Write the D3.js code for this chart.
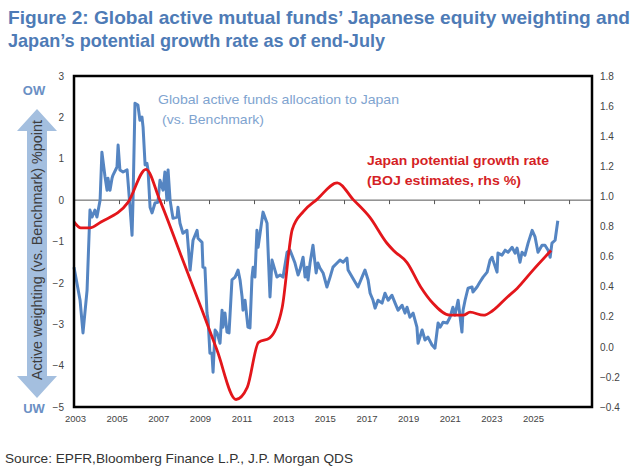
<!DOCTYPE html>
<html><head><meta charset="utf-8">
<script src="https://cdn.jsdelivr.net/npm/d3@7"></script>
<style>body{margin:0;background:#fff}svg{display:block}</style>
</head><body>
<svg id="c" width="640" height="472"></svg>
<script>
// ---- data (decimal years) ----
const blueYears = [2003.00,2003.27,2003.40,2003.58,2003.71,2003.80,2003.93,2004.02,2004.16,2004.24,2004.38,2004.47,2004.51,2004.60,2004.69,2004.73,2004.91,2004.96,2005.04,2005.18,2005.36,2005.49,2005.58,2005.62,2005.71,2005.84,2005.93,2006.02,2006.07,2006.16,2006.24,2006.29,2006.38,2006.47,2006.60,2006.73,2006.82,2006.96,2007.04,2007.13,2007.18,2007.27,2007.36,2007.40,2007.58,2007.62,2007.71,2007.84,2008.02,2008.16,2008.29,2008.47,2008.51,2008.69,2008.73,2008.82,2008.91,2008.96,2009.04,2009.13,2009.18,2009.27,2009.36,2009.49,2009.58,2009.62,2009.71,2009.80,2009.89,2010.02,2010.16,2010.29,2010.38,2010.47,2010.51,2010.60,2010.73,2010.82,2010.91,2010.96,2011.04,2011.13,2011.18,2011.27,2011.40,2011.58,2011.62,2011.71,2011.80,2011.93,2012.02,2012.16,2012.29,2012.47,2012.60,2012.82,2012.96,2013.04,2013.18,2013.27,2013.36,2013.40,2013.49,2013.62,2013.76,2013.84,2013.93,2014.07,2014.24,2014.38,2014.51,2014.69,2014.82,2014.96,2015.13,2015.18,2015.36,2015.49,2015.62,2015.80,2015.93,2016.07,2016.16,2016.29,2016.38,2016.51,2016.69,2016.82,2016.96,2017.13,2017.27,2017.40,2017.58,2017.71,2017.80,2017.93,2018.07,2018.24,2018.29,2018.47,2018.60,2018.73,2018.91,2019.04,2019.18,2019.27,2019.40,2019.58,2019.71,2019.84,2019.93,2020.07,2020.24,2020.29,2020.38,2020.51,2020.69,2020.73,2020.91,2021.04,2021.18,2021.36,2021.49,2021.58,2021.62,2021.80,2021.84,2022.02,2022.16,2022.29,2022.47,2022.60,2022.69,2022.82,2022.91,2023.04,2023.18,2023.36,2023.49,2023.62,2023.80,2023.93,2024.07,2024.16,2024.24,2024.38,2024.50];
const blueValues = [-1.62,-2.42,-3.21,-2.18,-0.24,-0.41,-0.24,-0.41,0.00,1.16,0.56,0.24,0.53,0.24,0.53,0.60,0.80,1.33,0.73,0.68,0.73,-0.17,-0.85,-0.07,2.34,2.30,1.93,2.01,1.76,0.85,0.89,0.73,-0.17,-0.31,-0.07,-0.05,0.48,0.24,0.68,0.00,0.73,0.00,-0.31,-0.44,-0.41,-0.17,-0.56,-0.80,-0.73,-1.69,-0.97,-0.73,-0.92,-1.02,-1.62,-1.64,-2.73,-2.90,-3.70,-3.70,-4.16,-3.14,-3.21,-3.46,-2.66,-3.07,-2.73,-3.19,-3.21,-1.93,-1.86,-1.69,-1.93,-2.34,-2.66,-2.42,-3.07,-3.09,-1.86,-1.62,-1.86,-0.73,-1.14,-0.80,-0.29,-0.56,-1.14,-2.34,-1.45,-1.69,-1.86,-1.81,-1.86,-1.26,-1.21,-1.52,-1.81,-1.69,-1.38,-1.86,-1.62,-1.93,-1.52,-1.09,-1.76,-1.52,-1.64,-1.76,-2.10,-1.86,-1.62,-1.52,-1.45,-1.50,-1.40,-1.69,-1.86,-1.98,-2.10,-1.86,-1.69,-1.93,-2.25,-2.42,-2.61,-2.42,-2.49,-2.25,-2.42,-2.30,-2.49,-2.66,-2.54,-2.73,-2.59,-2.83,-2.73,-3.07,-3.46,-3.14,-3.38,-3.31,-3.50,-3.58,-2.97,-3.07,-2.95,-2.97,-2.83,-2.59,-2.78,-2.42,-3.19,-2.66,-2.42,-2.13,-2.10,-2.22,-2.10,-1.98,-1.86,-1.74,-1.45,-1.38,-1.45,-1.74,-1.28,-1.33,-1.21,-1.26,-1.14,-1.28,-1.16,-1.50,-1.26,-1.33,-1.04,-0.73,-0.89,-1.26,-1.09,-1.09,-1.21,-1.38,-1.04,-0.97,-0.50];

const redYears = [2003.0,2003.3,2003.7,2004.2,2005.4,2006.2,2006.8,2007.8,2008.7,2009.35,2010.2,2010.7,2011.2,2011.7,2012.25,2012.7,2013.2,2013.8,2014.7,2015.4,2016.15,2016.9,2017.2,2017.8,2018.4,2018.95,2019.7,2020.3,2020.6,2021.2,2021.6,2022.25,2022.7,2023.4,2024.2];
const redValues = [0.83,0.79,0.79,0.83,0.96,1.18,0.98,0.59,0.24,-0.02,-0.35,-0.27,0.03,0.06,0.26,0.78,0.90,0.98,1.09,0.98,0.86,0.69,0.64,0.56,0.40,0.29,0.21,0.21,0.23,0.21,0.24,0.33,0.39,0.51,0.64];

const xTickYears = [2003,2005,2007,2009,2011,2013,2015,2017,2019,2021,2023,2025];
const leftTicks = [3,2,1,0,-1,-2,-3,-4,-5];
const rightTicks = [1.8,1.6,1.4,1.2,1.0,0.8,0.6,0.4,0.2,0.0,-0.2,-0.4];

// ---- layout ----
const L = 74, R = 592, T = 76, B = 407;
const svg = d3.select('#c');
const x = d3.scaleLinear().domain([2003, 2026.02]).range([L, R]);
const xLab = d3.scaleLinear().domain([2003, 2025]).range([75, 533]);
const yL = d3.scaleLinear().domain([-5, 3]).range([B, T]);
const yR = d3.scaleLinear().domain([-0.4, 1.8]).range([B, T]);

const font = "'Liberation Sans', Arial, sans-serif";
const narrow = "'Liberation Sans Narrow', 'Arial Narrow', 'Liberation Sans', Arial, sans-serif";

// title
const titleColor = '#4e7bb6';
svg.append('text').attr('x', 8).attr('y', 24).text("Figure 2: Global active mutual funds\u2019 Japanese equity weighting and")
  .attr('font-family', narrow).attr('font-weight', 'bold').attr('font-size', 18.5).attr('fill', titleColor)
  .attr('textLength', 622).attr('lengthAdjust', 'spacingAndGlyphs');
svg.append('text').attr('x', 8).attr('y', 47).text("Japan\u2019s potential growth rate as of end-July")
  .attr('font-family', narrow).attr('font-weight', 'bold').attr('font-size', 18.5).attr('fill', titleColor)
  .attr('textLength', 377).attr('lengthAdjust', 'spacingAndGlyphs');

// left axis labels
const gL = svg.append('g').attr('transform', `translate(${L},0)`)
  .call(d3.axisLeft(yL).tickValues(leftTicks).tickSize(0).tickPadding(10).tickFormat(d3.format('d')));
gL.select('.domain').remove();
gL.selectAll('text').attr('font-family', font).attr('font-size', 10).attr('fill', '#444');

// right axis labels
const gR = svg.append('g').attr('transform', `translate(${R},0)`)
  .call(d3.axisRight(yR).tickValues(rightTicks).tickSize(0).tickPadding(8).tickFormat(d3.format('.1f')));
gR.select('.domain').remove();
gR.selectAll('text').attr('font-family', font).attr('font-size', 10).attr('fill', '#444');

// bottom labels
const gB = svg.append('g').attr('transform', `translate(0,${B})`)
  .call(d3.axisBottom(xLab).tickValues(xTickYears).tickSize(0).tickPadding(8).tickFormat(d3.format('d')));
gB.select('.domain').remove();
gB.selectAll('text').attr('font-family', font).attr('font-size', 9.5).attr('fill', '#444');

// zero line with ticks
svg.append('line').attr('x1', L).attr('x2', R).attr('y1', yL(0)).attr('y2', yL(0))
  .attr('stroke', '#555').attr('stroke-width', 1);
const gZ = svg.append('g').attr('transform', `translate(0,${yL(0)})`)
  .call(d3.axisBottom(x).tickValues(xTickYears).tickSize(4).tickFormat(''));
gZ.select('.domain').remove();
gZ.selectAll('line').attr('stroke', '#555');

// lines
const blue = blueYears.map((d, i) => [d, blueValues[i]]);
const red = redYears.map((d, i) => [d, redValues[i]]);
svg.append('path').datum(blue)
  .attr('d', d3.line().x(d => x(d[0])).y(d => yL(d[1])))
  .attr('fill', 'none').attr('stroke', '#5585c2').attr('stroke-width', 3).attr('stroke-linejoin', 'round');
svg.append('path').datum(red)
  .attr('d', d3.line().curve(d3.curveMonotoneX).x(d => x(d[0])).y(d => yR(d[1])))
  .attr('fill', 'none').attr('stroke', '#e3161b').attr('stroke-width', 2.8).attr('stroke-linejoin', 'round');

// frame
svg.append('rect').attr('x', L).attr('y', T).attr('width', R - L).attr('height', B - T)
  .attr('fill', 'none').attr('stroke', '#000').attr('stroke-width', 2.5);

// series labels
svg.append('text').attr('x', 158).attr('y', 104).text('Global active funds allocation to Japan')
  .attr('font-family', font).attr('font-size', 13).attr('fill', '#7fa4d0')
  .attr('textLength', 241).attr('lengthAdjust', 'spacingAndGlyphs');
svg.append('text').attr('x', 162).attr('y', 124).text('(vs. Benchmark)')
  .attr('font-family', font).attr('font-size', 13).attr('fill', '#7fa4d0')
  .attr('textLength', 102).attr('lengthAdjust', 'spacingAndGlyphs');
svg.append('text').attr('x', 367).attr('y', 165).text('Japan potential growth rate')
  .attr('font-family', font).attr('font-weight', 'bold').attr('font-size', 13).attr('fill', '#d51f26')
  .attr('textLength', 182).attr('lengthAdjust', 'spacingAndGlyphs');
svg.append('text').attr('x', 367).attr('y', 185).text('(BOJ estimates, rhs %)')
  .attr('font-family', font).attr('font-weight', 'bold').attr('font-size', 13).attr('fill', '#d51f26')
  .attr('textLength', 154).attr('lengthAdjust', 'spacingAndGlyphs');

// left double arrow + title
const arrX = 37, arrTop = 109, arrBot = 398, hh = 22, hw = 20, sw = 10;
svg.append('path')
  .attr('d', `M${arrX},${arrTop} L${arrX+hw},${arrTop+hh} L${arrX+sw},${arrTop+hh} L${arrX+sw},${arrBot-hh} L${arrX+hw},${arrBot-hh} L${arrX},${arrBot} L${arrX-hw},${arrBot-hh} L${arrX-sw},${arrBot-hh} L${arrX-sw},${arrTop+hh} L${arrX-hw},${arrTop+hh} Z`)
  .attr('fill', '#a4bfdf');
svg.append('text').attr('transform', `translate(${arrX+5},250) rotate(-90)`).attr('text-anchor', 'middle')
  .text('Active weighting (vs. Benchmark) %point')
  .attr('font-family', font).attr('font-size', 14).attr('fill', '#3d3d3d')
  .attr('textLength', 260).attr('lengthAdjust', 'spacingAndGlyphs');
svg.append('text').attr('x', 34).attr('y', 95).attr('text-anchor', 'middle').text('OW')
  .attr('font-family', font).attr('font-weight', 'bold').attr('font-size', 13).attr('fill', '#6a8fc4');
svg.append('text').attr('x', 34).attr('y', 413).attr('text-anchor', 'middle').text('UW')
  .attr('font-family', font).attr('font-weight', 'bold').attr('font-size', 13).attr('fill', '#6a8fc4');

// source
svg.append('text').attr('x', 5).attr('y', 463).text('Source: EPFR,Bloomberg Finance L.P., J.P. Morgan QDS')
  .attr('font-family', font).attr('font-size', 13).attr('fill', '#333')
  .attr('textLength', 348).attr('lengthAdjust', 'spacingAndGlyphs');
</script>
</body></html>
